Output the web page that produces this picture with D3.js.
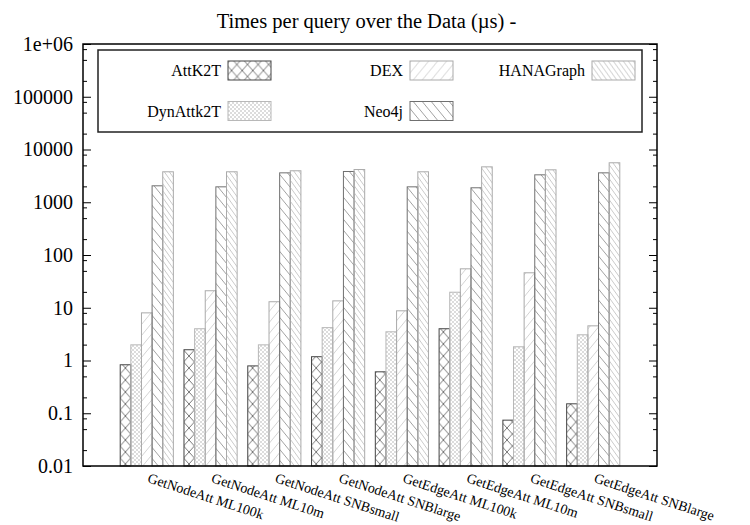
<!DOCTYPE html>
<html>
<head>
<meta charset="utf-8">
<script src="https://cdn.jsdelivr.net/npm/d3@7"></script>
<style>
  body { margin: 0; background: #fff; }
  svg { font-family: "Liberation Serif", "DejaVu Serif", serif; }
</style>
</head>
<body>
<div class="canvas"></div>
<script>
const queries = [
  "GetNodeAtt ML100k",
  "GetNodeAtt ML10m",
  "GetNodeAtt SNBsmall",
  "GetNodeAtt SNBlarge",
  "GetEdgeAtt ML100k",
  "GetEdgeAtt ML10m",
  "GetEdgeAtt SNBsmall",
  "GetEdgeAtt SNBlarge",
];
const systems = ["AttK2T", "DynAttk2T", "DEX", "Neo4j", "HANAGraph"];

// times in microseconds, one array per system, in query order
const attK2T = [0.83, 1.6, 0.79, 1.18, 0.61, 4.0, 0.074, 0.151];
const dynAttk2T = [1.98, 4.0, 1.98, 4.2, 3.5, 19.7, 1.82, 3.07];
const dex = [8.0, 21, 13, 13.5, 8.75, 54.7, 46, 4.54];
const neo4j = [2050, 1960, 3610, 3830, 1960, 1880, 3310, 3610];
const hanaGraph = [3780, 3780, 3950, 4170, 3780, 4690, 4120, 5600];

const majorTicks = [0.01, 0.1, 1, 10, 100, 1000, 10000, 100000, 1000000];
const majorLabels = ["0.01", "0.1", "1", "10", "100", "1000", "10000", "100000", "1e+06"];

const series = [attK2T, dynAttk2T, dex, neo4j, hanaGraph];

// look of each system: pattern id, hatch colour, border colour
const styles = [
  { id: "p-cross", stroke: "#555", border: "#444" },
  { id: "p-dense", stroke: "#c4c4c4", border: "#b8b8b8" },
  { id: "p-fwd", stroke: "#c8c8c8", border: "#aaa" },
  { id: "p-back", stroke: "#8a8a8a", border: "#707070" },
  { id: "p-back2", stroke: "#bdbdbd", border: "#aaa" },
];

const W = 750, H = 525;
const margin = { top: 44, right: 93, bottom: 59, left: 83 };
const plotW = W - margin.left - margin.right;
const plotH = H - margin.top - margin.bottom;

const svg = d3.select(".canvas").append("svg")
  .attr("width", W)
  .attr("height", H);

const defs = svg.append("defs");

function hatch(id, w, h, color, dirs, sw) {
  const p = defs.append("pattern")
    .attr("id", id)
    .attr("patternUnits", "userSpaceOnUse")
    .attr("width", w)
    .attr("height", h);
  dirs.forEach((dir) => {
    [-w, 0, w].forEach((dx) => {
      const line = p.append("line")
        .attr("stroke", color)
        .attr("stroke-width", sw);
      if (dir === "/") {
        line.attr("x1", dx).attr("y1", h).attr("x2", dx + w).attr("y2", 0);
      } else {
        line.attr("x1", dx).attr("y1", 0).attr("x2", dx + w).attr("y2", h);
      }
    });
  });
}

hatch("p-cross", 10.6, 12, styles[0].stroke, ["/", "\\"], 0.8);
hatch("p-dense", 4, 4, styles[1].stroke, ["/", "\\"], 0.6);
hatch("p-fwd", 9, 11, styles[2].stroke, ["/"], 0.8);
hatch("p-back", 9, 11, styles[3].stroke, ["\\"], 0.8);
hatch("p-back2", 5, 7, styles[4].stroke, ["\\"], 0.8);

const chart = svg.append("g")
  .attr("transform", `translate(${margin.left}, ${margin.top})`);

const x = d3.scaleLinear().domain([-1, queries.length]).range([0, plotW]);
const y = d3.scaleLog().domain([0.01, 1e6]).range([plotH, 0]);
const unit = x(1) - x(0);
const barW = unit / 6;

// bars
series.forEach((vals, s) => {
  chart.append("g")
    .selectAll("rect")
    .data(vals)
    .enter()
    .append("rect")
    .attr("x", (d, i) => x(i) - 2.5 * barW + s * barW)
    .attr("y", (d) => y(d))
    .attr("width", barW)
    .attr("height", (d) => plotH - y(d))
    .attr("fill", `url(#${styles[s].id})`)
    .attr("stroke", styles[s].border)
    .attr("stroke-width", 1);
});

// minor ticks at 2, 5, 8 of each decade
const minorTicks = [];
for (let e = -2; e < 6; e++) {
  [2, 5, 8].forEach((m) => minorTicks.push(m * Math.pow(10, e)));
}

const yAxis = d3.axisLeft(y)
  .tickValues(majorTicks)
  .tickFormat((d, i) => majorLabels[i])
  .tickSizeInner(-8)
  .tickSizeOuter(0)
  .tickPadding(10);

chart.append("g").attr("class", "axis").call(yAxis);
chart.append("g").attr("class", "axis")
  .call(d3.axisLeft(y).tickValues(minorTicks).tickFormat("").tickSizeInner(-4).tickSizeOuter(0));

chart.append("g").attr("class", "axis")
  .attr("transform", `translate(${plotW}, 0)`)
  .call(d3.axisRight(y).tickValues(majorTicks).tickFormat("").tickSizeInner(-8).tickSizeOuter(0));
chart.append("g").attr("class", "axis")
  .attr("transform", `translate(${plotW}, 0)`)
  .call(d3.axisRight(y).tickValues(minorTicks).tickFormat("").tickSizeInner(-4).tickSizeOuter(0));

chart.selectAll(".axis text")
  .style("font-family", "Liberation Serif, serif")
  .style("font-size", "20px")
  .attr("fill", "#000");
chart.selectAll(".axis line").attr("stroke", "#000").attr("stroke-width", 1);
chart.selectAll(".axis .domain").remove();

// frame
chart.append("rect")
  .attr("x", 0).attr("y", 0)
  .attr("width", plotW).attr("height", plotH)
  .attr("fill", "none")
  .attr("stroke", "#000")
  .attr("stroke-width", 1.5);

// x labels
chart.append("g")
  .selectAll("text")
  .data(queries)
  .enter()
  .append("text")
  .attr("transform", (d, i) => `translate(${x(i)}, ${plotH + 16}) rotate(18)`)
  .attr("text-anchor", "start")
  .style("font-size", "14px")
  .text((d) => d);

// legend
const legend = svg.append("g").attr("transform", "translate(98, 50)");
legend.append("rect")
  .attr("width", 544).attr("height", 82)
  .attr("fill", "#fff")
  .attr("stroke", "#222")
  .attr("stroke-width", 1.5);

const items = legend.selectAll("g.item")
  .data(systems)
  .enter()
  .append("g")
  .attr("class", "item")
  .attr("transform", (d, i) => `translate(${123 + Math.floor(i / 2) * 182}, ${20.5 + (i % 2) * 40.5})`);

items.append("text")
  .attr("text-anchor", "end")
  .attr("dy", "0.35em")
  .style("font-size", "16px")
  .text((d) => d);

items.append("rect")
  .attr("x", 7)
  .attr("y", -9.5)
  .attr("width", 43)
  .attr("height", 19)
  .attr("fill", (d, i) => `url(#${styles[i].id})`)
  .attr("stroke", (d, i) => styles[i].border)
  .attr("stroke-width", 1);

// title
svg.append("text")
  .attr("x", 366.5)
  .attr("y", 28)
  .attr("text-anchor", "middle")
  .style("font-size", "20.5px")
  .text("Times per query over the Data (\u00b5s) -");
</script>
</body>
</html>
